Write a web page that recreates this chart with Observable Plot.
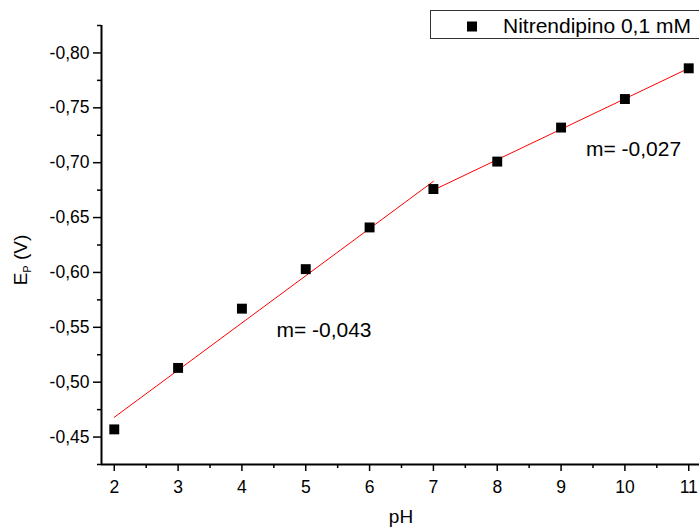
<!DOCTYPE html>
<html><head><meta charset="utf-8">
<script src="https://cdn.jsdelivr.net/npm/d3@7"></script>
<script src="https://cdn.jsdelivr.net/npm/@observablehq/plot@0.6"></script>
<style>body{margin:0;background:#fff} svg{display:block}</style>
</head><body><div id="chart"></div>
<script>
// Data
const pH = [2, 3, 4, 5, 6, 7, 8, 9, 10, 11];
const Ep = [-0.457, -0.513, -0.567, -0.603, -0.641, -0.676, -0.701, -0.732, -0.758, -0.786];
const fitAcidX = [2, 7];
const fitAcidY = [-0.468, -0.683];
const fitBasicX = [7, 11];
const fitBasicY = [-0.675, -0.786];
const slopeLabels = ["m= -0,043", "m= -0,027"];
const slopeX = [4.54, 9.39];
const slopeY = [-0.541, -0.706];
const xTicks = [2, 3, 4, 5, 6, 7, 8, 9, 10, 11];
const xMinor = [2.5, 3.5, 4.5, 5.5, 6.5, 7.5, 8.5, 9.5, 10.5];
const yTicks = [-0.45, -0.50, -0.55, -0.60, -0.65, -0.70, -0.75, -0.80];
const yMinor = [-0.425, -0.475, -0.525, -0.575, -0.625, -0.675, -0.725, -0.775, -0.825];
const legendLabel = "Nitrendipino 0,1 mM";
const xLabel = "pH";

const points = pH.map((x, i) => ({x, y: Ep[i]}));
const fit1 = fitAcidX.map((x, i) => ({x, y: fitAcidY[i]}));
const fit2 = fitBasicX.map((x, i) => ({x, y: fitBasicY[i]}));
const notes = slopeLabels.map((t, i) => ({t, x: slopeX[i], y: slopeY[i]}));

const font = "'Liberation Sans', Arial, sans-serif";
const fmt = d => d.toFixed(2).replace(".", ",");

const plot = Plot.plot({
  width: 699, height: 529,
  marginLeft: 101, marginRight: 0, marginTop: 25, marginBottom: 65,
  style: {fontFamily: font, background: "white", color: "black"},
  x: {domain: [1.8, 11.2], range: [101, 701]},
  y: {domain: [-0.425, -0.825]},
  marks: [
    Plot.axisX(xMinor, {tickSize: 4, tickFormat: () => "", strokeWidth: 1.5, label: null}),
    Plot.axisX(xTicks, {tickSize: 7, tickPadding: 9, fontSize: 17.5, strokeWidth: 1.5, label: null, tickFormat: d => String(d)}),
    Plot.axisY(yMinor, {tickSize: 4, tickFormat: () => "", strokeWidth: 1.5, label: null}),
    Plot.axisY(yTicks, {tickSize: 8, tickPadding: 4, fontSize: 17.5, strokeWidth: 1.5, label: null, tickFormat: fmt}),
    Plot.ruleX([1.8], {strokeWidth: 2}),
    Plot.ruleY([-0.425], {strokeWidth: 2}),
    Plot.line(fit1, {x: "x", y: "y", stroke: "red", strokeWidth: 1}),
    Plot.line(fit2, {x: "x", y: "y", stroke: "red", strokeWidth: 1}),
    Plot.dot(points, {x: "x", y: "y", symbol: "square", r: 5.6, fill: "black"}),
    Plot.text(notes, {x: "x", y: "y", text: "t", textAnchor: "start", lineAnchor: "bottom", fontSize: 21, fill: "black"})
  ]
});

const svg = d3.select(plot);
const lg = svg.append("g");
lg.append("rect").attr("x", 430.5).attr("y", 10.5).attr("width", 290).attr("height", 28)
  .attr("fill", "white").attr("stroke", "#333").attr("stroke-width", 1);
lg.append("rect").attr("x", 467).attr("y", 21.5).attr("width", 10).attr("height", 10).attr("fill", "black");
lg.append("text").attr("x", 503).attr("y", 33).attr("text-anchor", "start").attr("font-size", 21)
  .attr("fill", "black").text(legendLabel);

const yl = svg.append("text").attr("transform", "translate(27,260) rotate(-90)")
  .attr("text-anchor", "middle").attr("font-size", 19).attr("fill", "black");
yl.append("tspan").text("E");
yl.append("tspan").attr("font-size", 11).attr("dy", 4).text("P");
yl.append("tspan").attr("dy", -4).text(" (V)");

svg.append("text").attr("x", 401).attr("y", 523).attr("text-anchor", "middle")
  .attr("font-size", 19).attr("fill", "black").text(xLabel);

document.getElementById("chart").appendChild(plot);
</script>
</body></html>
